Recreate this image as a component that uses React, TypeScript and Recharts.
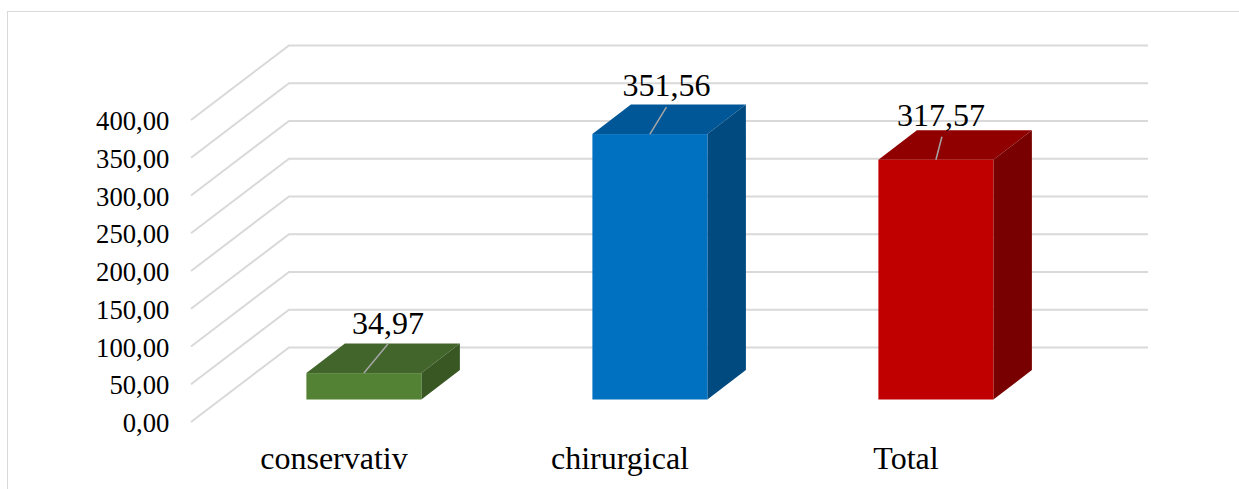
import React from "react"
import { BarChart, Bar, XAxis, YAxis, CartesianGrid, LabelList } from "recharts"

const categories = ["conservativ", "chirurgical", "Total"]
const values = [34.97, 351.56, 317.57]
const yTicks = [0, 50, 100, 150, 200, 250, 300, 350, 400]

const frontColors = ["#548235", "#0070c0", "#c00000"]
const topColors = ["#42652b", "#005797", "#900000"]
const sideColors = ["#385723", "#004a80", "#780000"]

// hand placed data labels, relative to the middle of the bar's front top edge
const labelShift = [
  { dx: 24, dy: -39, lineX: 24, lineY: -29 },
  { dx: 16.5, dy: -38, lineX: 16.5, lineY: -27 },
  { dx: 5, dy: -34, lineX: 6, lineY: -23 },
]

const data = categories.map((name, i) => ({ name, value: values[i] }))

const SERIF = "'Liberation Serif', 'Times New Roman', serif"
const DEPTH_X = 38.5
const DEPTH_Y = 29.5
// where the floor front and the back wall sit relative to the bar plane
const FRONT_X = 29.4
const FRONT_Y = 22.5
const BACK_X = 68.6
const BACK_Y = 52

const fmt = (v: number) => v.toFixed(2).replace(".", ",")

function Box3D(props: any) {
  const { x, y, width, height, index } = props
  const r = x + width
  const b = y + height
  return (
    <g>
      <polygon
        points={`${x},${y} ${x + DEPTH_X},${y - DEPTH_Y} ${r + DEPTH_X},${y - DEPTH_Y} ${r},${y}`}
        fill={topColors[index]}
      />
      <polygon
        points={`${r},${y} ${r + DEPTH_X},${y - DEPTH_Y} ${r + DEPTH_X},${b - DEPTH_Y} ${r},${b}`}
        fill={sideColors[index]}
      />
      <rect x={x} y={y} width={width} height={height} fill={frontColors[index]} />
    </g>
  )
}

function WallLine(props: any) {
  const { x1, x2, y1 } = props
  const pts = [
    [x1 - FRONT_X, y1 + FRONT_Y],
    [x1 + BACK_X, y1 - BACK_Y],
    [x2 + BACK_X + 1, y1 - BACK_Y],
  ]
  return <polyline points={pts.map((p) => p.join(",")).join(" ")} fill="none" stroke="#d9d9d9" strokeWidth={2} />
}

function YTick({ x, y, payload }: any) {
  return (
    <text x={x - 45} y={y + 32.5} textAnchor="end" fontFamily={SERIF} fontSize={26.67} fill="#000">
      {fmt(payload.value)}
    </text>
  )
}

function XTick({ x, payload }: any) {
  return (
    <text x={x - FRONT_X} y={469} textAnchor="middle" fontFamily={SERIF} fontSize={32} fill="#000">
      {payload.value}
    </text>
  )
}

function BarLabel({ x, y, width, value, index }: any) {
  const cx = x + width / 2
  const s = labelShift[index]
  return (
    <g>
      <line x1={cx} y1={y} x2={cx + s.lineX} y2={y + s.lineY} stroke="#a6a6a6" strokeWidth={1.5} />
      <text x={cx + s.dx} y={y + s.dy} textAnchor="middle" fontFamily={SERIF} fontSize={32} fill="#000">
        {fmt(value)}
      </text>
    </g>
  )
}

export default function App() {
  return (
    <div style={{ position: "absolute", left: 0, top: 0, width: 1239, height: 489, background: "#fff", overflow: "hidden" }}>
      <div
        style={{
          position: "absolute",
          left: 7,
          top: 11,
          width: 1240,
          height: 490,
          borderLeft: "1.5px solid #d9d9d9",
          borderTop: "1.5px solid #d9d9d9",
        }}
      />
      <BarChart
        width={1239}
        height={489}
        data={data}
        margin={{ top: 97.5, right: 160.6, bottom: 0, left: 0 }}
        barCategoryGap={0}
        style={{ position: "absolute", left: 0, top: 0 }}
      >
        <CartesianGrid vertical={false} horizontal={(p: any) => <WallLine key={p.key} {...p} />} />
        <XAxis dataKey="name" axisLine={false} tickLine={false} height={89.5} tick={<XTick />} interval={0} />
        <YAxis
          width={220.4}
          domain={[0, 400]}
          ticks={yTicks}
          axisLine={false}
          tickLine={false}
          tickMargin={0}
          tick={<YTick />}
          interval={0}
        />
        <Bar dataKey="value" barSize={115} isAnimationActive={false} shape={<Box3D />}>
          <LabelList dataKey="value" content={<BarLabel />} />
        </Bar>
      </BarChart>
    </div>
  )
}
